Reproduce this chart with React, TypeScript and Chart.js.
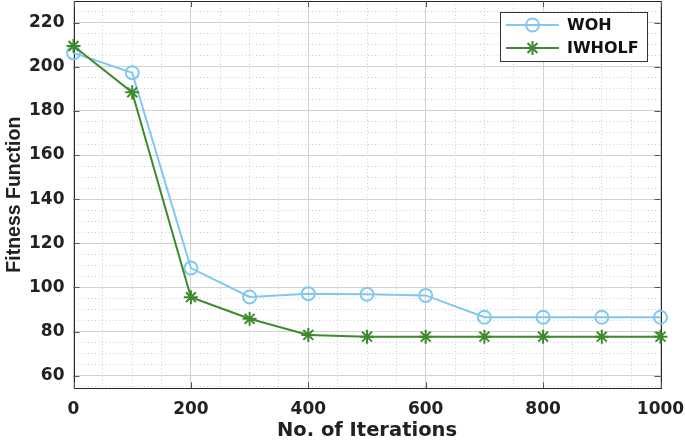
import React, { useEffect, useRef } from 'react';
import { Chart, registerables } from 'chart.js';

Chart.register(...registerables);

const ITERATIONS = [0, 100, 200, 300, 400, 500, 600, 700, 800, 900, 1000];
const WOH = [206.3, 197.3, 108.8, 95.7, 97.2, 96.9, 96.4, 86.5, 86.5, 86.5, 86.5];
const IWHOLF = [209.4, 188.4, 95.6, 85.8, 78.5, 77.7, 77.7, 77.7, 77.7, 77.7, 77.7];
const X_TICKS = [0, 200, 400, 600, 800, 1000];
const Y_TICKS = [60, 80, 100, 120, 140, 160, 180, 200, 220];
const SERIES_NAMES = ['WOH', 'IWHOLF'];
const X_TITLE = 'No. of Iterations';
const Y_TITLE = 'Fitness Function';

const X_MIN = 0;
const X_MAX = 1000;
const Y_MIN = 54.3;
const Y_MAX = 229.8;
const X_MINOR_STEP = 50;
const Y_MINOR_STEP = 5;

const BLUE = '#80c8f0';
const GREEN = '#3e8b2d';
const TEXT = '#222222';
const AXIS = '#262626';
const MAJOR_GRID = '#d2d2d2';
const MINOR_GRID = '#cdcdcd';

function minorTicks(min: number, max: number, step: number) {
  const out: { value: number }[] = [];
  for (let v = Math.ceil(min / step) * step; v <= max + 1e-9; v += step) out.push({ value: v });
  return out;
}

function zeroPad(s: any) {
  s.paddingLeft = 0;
  s.paddingRight = 0;
  s.paddingTop = 0;
  s.paddingBottom = 0;
}

function drawStar(ctx: CanvasRenderingContext2D, x: number, y: number, r: number) {
  for (let k = 0; k < 4; k++) {
    const a = (k * Math.PI) / 4;
    ctx.beginPath();
    ctx.moveTo(x - Math.cos(a) * r, y - Math.sin(a) * r);
    ctx.lineTo(x + Math.cos(a) * r, y + Math.sin(a) * r);
    ctx.stroke();
  }
}

const framePlugin = {
  id: 'frame',
  beforeDatasetsDraw(chart: any) {
    const { ctx, chartArea } = chart;
    const { left, right, top, bottom } = chartArea;
    const xs = chart.scales.x;
    const ys = chart.scales.y;
    ctx.save();
    ctx.strokeStyle = AXIS;
    ctx.lineWidth = 1;
    ctx.strokeRect(Math.round(left) + 0.5, Math.round(top) + 0.5, Math.round(right) - Math.round(left), Math.round(bottom) - Math.round(top));
    ctx.strokeStyle = '#555555';
    const tl = 6;
    X_TICKS.forEach((v) => {
      const px = Math.round(xs.getPixelForValue(v)) + 0.5;
      ctx.beginPath();
      ctx.moveTo(px, bottom);
      ctx.lineTo(px, bottom - tl);
      ctx.moveTo(px, top);
      ctx.lineTo(px, top + tl);
      ctx.stroke();
    });
    Y_TICKS.forEach((v) => {
      const py = Math.round(ys.getPixelForValue(v)) + 0.5;
      ctx.beginPath();
      ctx.moveTo(left, py);
      ctx.lineTo(left + tl, py);
      ctx.moveTo(right, py);
      ctx.lineTo(right - tl, py);
      ctx.stroke();
    });
    ctx.restore();
  },
};

const legendPlugin = {
  id: 'boxLegend',
  afterDraw(chart: any) {
    const { ctx, chartArea } = chart;
    const boxRight = chartArea.right - 13.5;
    const boxLeft = boxRight - 147;
    const boxTop = chartArea.top + 11;
    const boxH = 49;
    ctx.save();
    ctx.fillStyle = '#ffffff';
    ctx.fillRect(boxLeft, boxTop, boxRight - boxLeft, boxH);
    ctx.strokeStyle = '#333333';
    ctx.lineWidth = 1;
    ctx.strokeRect(Math.round(boxLeft) + 0.5, Math.round(boxTop) + 0.5, Math.round(boxRight - boxLeft), boxH);
    const rows = [
      { name: SERIES_NAMES[0], color: BLUE, kind: 'circle', y: boxTop + 13 },
      { name: SERIES_NAMES[1], color: GREEN, kind: 'star', y: boxTop + 36 },
    ];
    rows.forEach((r) => {
      const x0 = boxLeft + 6;
      const x1 = boxLeft + 59;
      const xm = (x0 + x1) / 2;
      ctx.strokeStyle = r.color;
      ctx.lineWidth = 2;
      ctx.beginPath();
      ctx.moveTo(x0, r.y);
      ctx.lineTo(x1, r.y);
      ctx.stroke();
      if (r.kind === 'circle') {
        ctx.beginPath();
        ctx.arc(xm, r.y, 6.5, 0, Math.PI * 2);
        ctx.stroke();
      } else {
        drawStar(ctx, xm, r.y, 7);
      }
      ctx.fillStyle = '#111111';
      ctx.font = 'bold 16px "DejaVu Sans"';
      ctx.textAlign = 'left';
      ctx.textBaseline = 'middle';
      ctx.fillText(r.name, boxLeft + 67, r.y + 1);
    });
    ctx.restore();
  },
};

export default function App() {
  const ref = useRef<HTMLCanvasElement | null>(null);

  useEffect(() => {
    document.body.style.margin = '0';
    const canvas = ref.current;
    if (!canvas) return;
    const chart = new Chart(canvas, {
      type: 'line',
      data: {
        datasets: [
          {
            label: SERIES_NAMES[0],
            data: ITERATIONS.map((x, i) => ({ x, y: WOH[i] })),
            borderColor: BLUE,
            borderWidth: 2,
            pointStyle: 'circle',
            pointRadius: 6.5,
            pointBorderWidth: 2,
            pointBorderColor: BLUE,
            pointBackgroundColor: 'rgba(0,0,0,0)',
            tension: 0,
            clip: false as any,
            order: 2,
          },
          {
            label: SERIES_NAMES[1],
            data: ITERATIONS.map((x, i) => ({ x, y: IWHOLF[i] })),
            borderColor: GREEN,
            borderWidth: 2,
            pointStyle: 'star',
            pointRadius: 7,
            pointBorderWidth: 2,
            pointBorderColor: GREEN,
            pointBackgroundColor: GREEN,
            tension: 0,
            clip: false as any,
            order: 1,
          },
        ],
      },
      options: {
        animation: false,
        responsive: false,
        devicePixelRatio: 1,
        layout: { autoPadding: false, padding: { top: 1, right: 24.5, left: 0, bottom: 0 } },
        plugins: { legend: { display: false }, tooltip: { enabled: false } },
        scales: {
          xm: {
            type: 'linear',
            axis: 'x',
            position: 'bottom',
            min: X_MIN,
            max: X_MAX,
            afterBuildTicks: (s: any) => { s.ticks = minorTicks(X_MIN, X_MAX, X_MINOR_STEP); },
            afterFit: (s: any) => { s.height = 0; zeroPad(s); },
            ticks: { display: false },
            grid: {
              drawTicks: false,
              color: (c: any) => (c.tick && c.tick.value % 200 === 0 ? 'rgba(0,0,0,0)' : MINOR_GRID),
              lineWidth: 1,
            },
            border: { display: false, dash: [1, 2.5] },
          },
          ym: {
            type: 'linear',
            axis: 'y',
            position: 'left',
            min: Y_MIN,
            max: Y_MAX,
            afterBuildTicks: (s: any) => { s.ticks = minorTicks(Y_MIN, Y_MAX, Y_MINOR_STEP); },
            afterFit: (s: any) => { s.width = 0; zeroPad(s); },
            ticks: { display: false },
            grid: {
              drawTicks: false,
              color: (c: any) => (c.tick && c.tick.value % 20 === 0 ? 'rgba(0,0,0,0)' : MINOR_GRID),
              lineWidth: 1,
            },
            border: { display: false, dash: [1, 2.5] },
          },
          x: {
            type: 'linear',
            position: 'bottom',
            min: X_MIN,
            max: X_MAX,
            afterBuildTicks: (s: any) => { s.ticks = X_TICKS.map((value) => ({ value })); },
            afterFit: (s: any) => { s.height = 54.7; zeroPad(s); },
            ticks: {
              color: TEXT,
              padding: 11,
              font: { family: 'DejaVu Sans', size: 17, weight: 'bold' },
              maxRotation: 0,
              callback: (v: any) => String(v),
            },
            grid: { drawTicks: false, color: MAJOR_GRID, lineWidth: 1 },
            border: { display: false },
            title: {
              display: true,
              text: X_TITLE,
              color: TEXT,
              font: { family: 'DejaVu Sans', size: 19.5, weight: 'bold' },
              padding: { top: 0, bottom: 0 },
            },
          },
          y: {
            type: 'linear',
            position: 'left',
            min: Y_MIN,
            max: Y_MAX,
            afterBuildTicks: (s: any) => { s.ticks = Y_TICKS.map((value) => ({ value })); },
            afterFit: (s: any) => { s.width = 73.5; zeroPad(s); },
            ticks: {
              color: TEXT,
              padding: 9,
              font: { family: 'DejaVu Sans', size: 17, weight: 'bold' },
              callback: (v: any) => String(v),
            },
            grid: { drawTicks: false, color: MAJOR_GRID, lineWidth: 1 },
            border: { display: false },
            title: {
              display: true,
              text: Y_TITLE,
              color: TEXT,
              font: { family: 'Liberation Sans', size: 19.5, weight: 'bold' },
              padding: { top: 3, bottom: 0 },
            },
          },
        },
      },
      plugins: [framePlugin, legendPlugin],
    } as any);
    return () => chart.destroy();
  }, []);

  return (
    <div style={{ width: 685, height: 443, background: '#ffffff' }}>
      <canvas ref={ref} width={685} height={443} style={{ display: 'block', width: 685, height: 443 }} />
    </div>
  );
}
